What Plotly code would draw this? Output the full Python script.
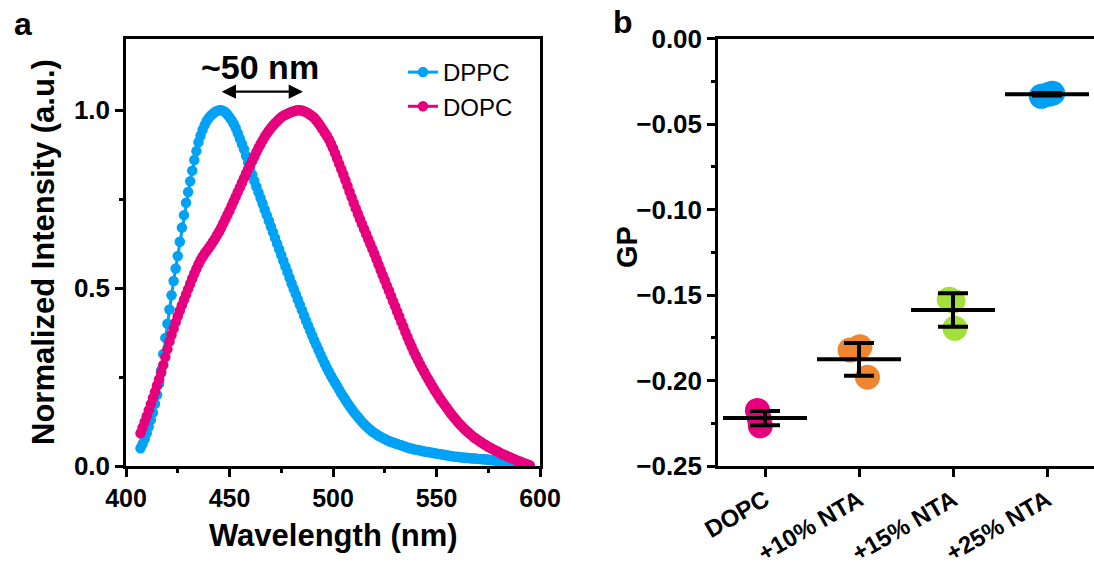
import plotly.graph_objects as go

# ---------------- Panel a data: emission spectra (1 nm sampling) ----------------
wavelength = list(range(407, 596))

dppc = [
    0.050, 0.062, 0.075, 0.092, 0.110, 0.130, 0.150, 0.175, 0.200, 0.232,
    0.270, 0.315, 0.360, 0.400, 0.440, 0.480, 0.520, 0.555, 0.590, 0.630,
    0.670, 0.705, 0.740, 0.770, 0.800, 0.830, 0.860, 0.885, 0.910, 0.928,
    0.945, 0.958, 0.970, 0.978, 0.985, 0.990, 0.995, 0.998, 1.000, 1.000,
    0.998, 0.994, 0.988, 0.980, 0.972, 0.962, 0.950, 0.935, 0.920, 0.905,
    0.890, 0.872, 0.853, 0.835, 0.818, 0.801, 0.785, 0.769, 0.753, 0.737,
    0.721, 0.705, 0.689, 0.673, 0.657, 0.641, 0.625, 0.609, 0.593, 0.577,
    0.561, 0.545, 0.529, 0.513, 0.498, 0.483, 0.468, 0.453, 0.438, 0.423,
    0.408, 0.394, 0.380, 0.366, 0.352, 0.339, 0.326, 0.313, 0.300, 0.288,
    0.276, 0.265, 0.254, 0.244, 0.234, 0.224, 0.214, 0.204, 0.195, 0.186,
    0.177, 0.168, 0.160, 0.152, 0.145, 0.138, 0.131, 0.124, 0.118, 0.112,
    0.107, 0.102, 0.097, 0.093, 0.089, 0.085, 0.082, 0.079, 0.076, 0.073,
    0.070, 0.068, 0.066, 0.064, 0.062, 0.060, 0.058, 0.056, 0.054, 0.052,
    0.050, 0.049, 0.047, 0.046, 0.045, 0.044, 0.042, 0.041, 0.040, 0.039,
    0.038, 0.037, 0.036, 0.035, 0.034, 0.033, 0.032, 0.031, 0.030, 0.029,
    0.028, 0.027, 0.026, 0.026, 0.025, 0.024, 0.024, 0.023, 0.023, 0.022,
    0.022, 0.021, 0.021, 0.020, 0.020, 0.019, 0.019, 0.018, 0.018, 0.017,
    0.016, 0.016, 0.015, 0.014, 0.013, 0.012, 0.011, 0.010, 0.009, 0.008,
    0.007, 0.006, 0.005, 0.004, 0.003, 0.002, 0.001, 0.001, 0.000,
]

dopc = [
    0.092, 0.108, 0.124, 0.140, 0.157, 0.174, 0.191, 0.208, 0.226, 0.244,
    0.263, 0.284, 0.306, 0.328, 0.350, 0.368, 0.386, 0.404, 0.421, 0.437,
    0.452, 0.467, 0.482, 0.497, 0.512, 0.527, 0.541, 0.554, 0.567, 0.578,
    0.588, 0.597, 0.605, 0.613, 0.621, 0.630, 0.639, 0.649, 0.659, 0.670,
    0.682, 0.694, 0.706, 0.718, 0.731, 0.744, 0.757, 0.770, 0.783, 0.796,
    0.809, 0.822, 0.834, 0.846, 0.858, 0.870, 0.882, 0.894, 0.905, 0.915,
    0.925, 0.934, 0.942, 0.950, 0.957, 0.963, 0.969, 0.975, 0.980, 0.984,
    0.987, 0.990, 0.993, 0.995, 0.997, 0.999, 1.000, 1.000, 0.999, 0.997,
    0.994, 0.991, 0.987, 0.983, 0.978, 0.971, 0.963, 0.955, 0.946, 0.937,
    0.928, 0.918, 0.906, 0.893, 0.879, 0.864, 0.849, 0.834, 0.819, 0.803,
    0.787, 0.771, 0.755, 0.739, 0.724, 0.709, 0.694, 0.680, 0.666, 0.652,
    0.638, 0.624, 0.610, 0.596, 0.581, 0.566, 0.551, 0.536, 0.522, 0.507,
    0.493, 0.478, 0.463, 0.449, 0.434, 0.420, 0.405, 0.391, 0.376, 0.362,
    0.348, 0.335, 0.322, 0.310, 0.298, 0.286, 0.275, 0.265, 0.254, 0.244,
    0.234, 0.224, 0.214, 0.205, 0.196, 0.187, 0.179, 0.171, 0.163, 0.155,
    0.147, 0.140, 0.133, 0.126, 0.119, 0.113, 0.107, 0.101, 0.096, 0.091,
    0.086, 0.081, 0.077, 0.073, 0.069, 0.065, 0.061, 0.058, 0.054, 0.051,
    0.048, 0.045, 0.042, 0.039, 0.036, 0.033, 0.031, 0.028, 0.025, 0.023,
    0.020, 0.018, 0.015, 0.013, 0.011, 0.008, 0.006, 0.004, 0.002,
]

# ---------------- Panel b data: GP values ----------------
categories = ["DOPC", "+10% NTA", "+15% NTA", "+25% NTA"]
gp_points = [
    [-0.2175, -0.2225, -0.2265],
    [-0.1822, -0.1803, -0.1981],
    [-0.1525, -0.1535, -0.1695],
    [-0.0338, -0.0326, -0.0320],
]
gp_jitter = [
    [-0.08, -0.06, -0.05],
    [-0.095, 0.01, 0.09],
    [-0.04, 0.00, 0.02],
    [-0.06, 0.02, 0.06],
]
gp_mean = [-0.2220, -0.1876, -0.1588, -0.0326]
gp_sd = [0.0042, 0.0096, 0.0098, 0.0007]
gp_colors = ["#E6007E", "#EE8630", "#A3E03A", "#00A0F0"]

BLUE = "#00A2F5"
PINK = "#E6007E"
FONT = "Arial, Liberation Sans, sans-serif"
W, H = 1094, 572


def px(x):
    return x / W


def py(y):
    return 1 - y / H


fig = go.Figure()

fig.add_trace(go.Scatter(
    x=wavelength, y=dppc, mode="lines+markers", name="DPPC",
    line=dict(color=BLUE, width=3), marker=dict(color=BLUE, size=10.5),
    xaxis="x", yaxis="y",
))
fig.add_trace(go.Scatter(
    x=wavelength, y=dopc, mode="lines+markers", name="DOPC",
    line=dict(color=PINK, width=3), marker=dict(color=PINK, size=10.5),
    xaxis="x", yaxis="y",
))

for i, cat in enumerate(categories):
    xs = [i + 1 + j for j in gp_jitter[i]]
    fig.add_trace(go.Scatter(
        x=xs, y=gp_points[i], mode="markers", showlegend=False,
        marker=dict(color=gp_colors[i], size=25, line=dict(width=0)),
        xaxis="x2", yaxis="y2", cliponaxis=False,
    ))

fig.add_trace(go.Scatter(
    x=[i + 1 for i in range(len(categories))], y=gp_mean, mode="markers",
    showlegend=False,
    marker=dict(symbol="line-ew", size=60, color="black",
                line=dict(color="black", width=4)),
    error_y=dict(type="data", array=gp_sd, visible=True, color="black",
                 thickness=4, width=15),
    xaxis="x2", yaxis="y2", cliponaxis=False,
))

tickfont = dict(family=FONT, size=26, color="black", weight="bold")
axis_common = dict(
    showline=True, linewidth=2.5, linecolor="black", showgrid=False,
    zeroline=False, ticks="outside", ticklen=8, tickwidth=2.5,
    tickcolor="black", tickfont=tickfont, automargin=False,
)

fig.update_layout(
    template="none",
    width=W, height=H, margin=dict(l=0, r=0, t=0, b=0, pad=0),
    paper_bgcolor="white", plot_bgcolor="white",
    xaxis=dict(domain=[px(126), px(540)], range=[400, 600],
               tickvals=[400, 450, 500, 550, 600], mirror=True,
               minor=dict(dtick=25, ticks="outside", ticklen=4, tickwidth=2.5,
                          tickcolor="black"),
               anchor="y", **{**axis_common, "tickfont": dict(
                   family=FONT, size=25, color="black", weight="bold")}),
    yaxis=dict(domain=[py(466), py(39)], range=[0, 1.2],
               tickvals=[0, 0.5, 1.0], ticktext=["0.0", "0.5", "1.0"],
               mirror=True,
               minor=dict(dtick=0.25, ticks="outside", ticklen=4, tickwidth=2.5,
                          tickcolor="black"),
               anchor="x", **axis_common),
    xaxis2=dict(domain=[px(718), 1.0], range=[0.5, 4.5],
                tickvals=[1, 2, 3, 4], ticktext=categories, tickangle=-30,
                mirror=True, anchor="y2",
                **{**axis_common, "tickfont": dict(family=FONT, size=24,
                                                   color="black", weight="bold")}),
    yaxis2=dict(domain=[py(466), py(38.5)], range=[-0.25, 0.0],
                dtick=0.05, tick0=0, tickformat=".2f", mirror=False,
                minor=dict(dtick=0.025, ticks="outside", ticklen=4,
                           tickwidth=2.5, tickcolor="black"),
                anchor="x2", **axis_common),
    legend=dict(x=px(403), y=py(50), xanchor="left", yanchor="top",
                font=dict(family=FONT, size=24, color="black"),
                bgcolor="rgba(0,0,0,0)", tracegroupgap=0),
    showlegend=True,
)

bold = dict(family=FONT, color="black", weight="bold")
annotations = [
    dict(text="a", x=px(23), y=py(24), font={**bold, "size": 32}),
    dict(text="b", x=px(623), y=py(22), font={**bold, "size": 32}),
    dict(text="Normalized Intensity (a.u.)", x=px(43), y=py(252),
         textangle=-90, font={**bold, "size": 31}),
    dict(text="Wavelength (nm)", x=px(333), y=py(535),
         font={**bold, "size": 31}),
    dict(text="GP", x=px(627), y=py(247), textangle=-90,
         font={**bold, "size": 29}),
]
for a in annotations:
    a.update(xref="paper", yref="paper", xanchor="center", yanchor="middle",
             showarrow=False)

annotations += [
    dict(text="~50 nm", x=464.7, y=1.121, xref="x", yref="y",
         xanchor="center", yanchor="middle", showarrow=False,
         font={**bold, "size": 34}),
    dict(text="", x=485.5, y=1.052, ax=445.5, ay=1.052, xref="x", yref="y",
         axref="x", ayref="y", showarrow=True, arrowside="end+start",
         arrowhead=2, arrowsize=1.3, arrowwidth=2.2, arrowcolor="black"),
]
fig.update_layout(annotations=annotations)

fig.write_html(
    "out.html",
    config={"displayModeBar": False},
    post_script="document.body.style.margin='0';document.body.style.padding='0';",
)
